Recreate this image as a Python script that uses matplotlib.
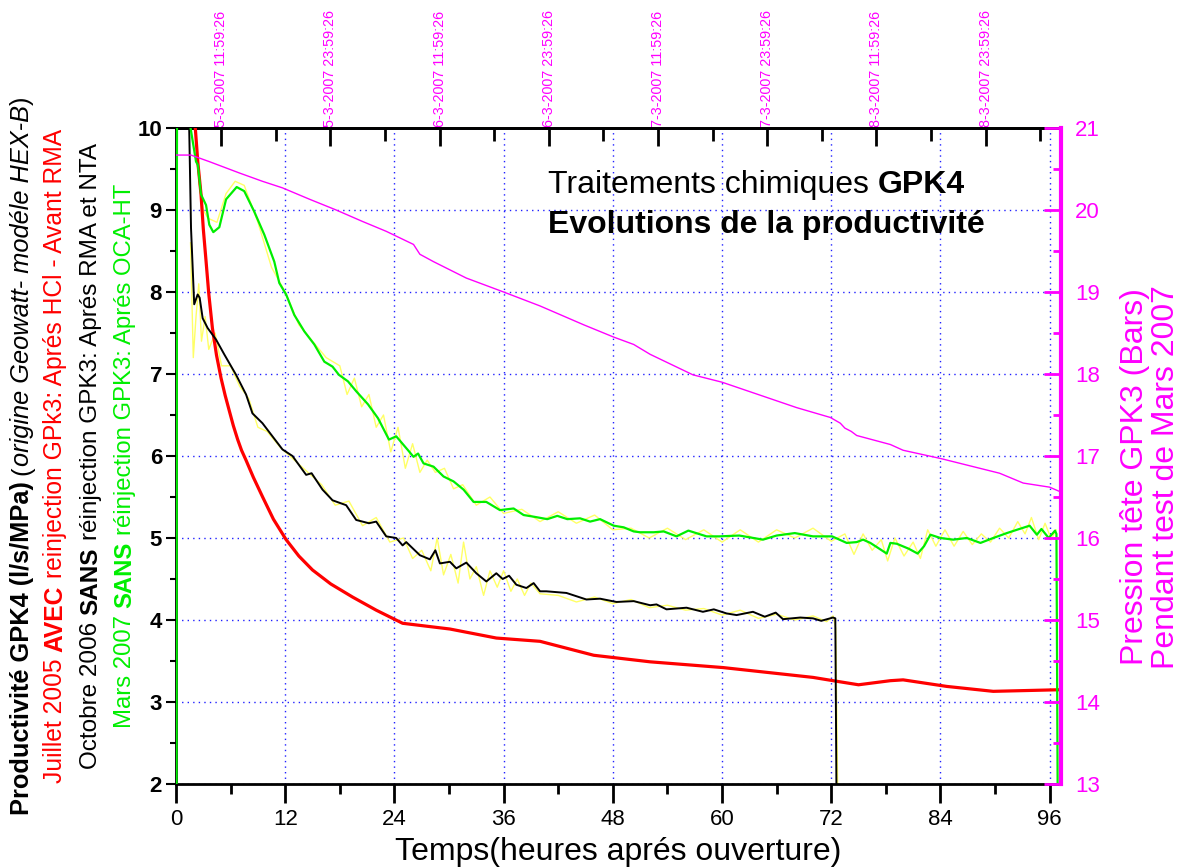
import matplotlib
matplotlib.use("Agg")
import matplotlib.pyplot as plt
import matplotlib.transforms as mtransforms
from matplotlib.ticker import MultipleLocator

plt.rcParams['font.family'] = ['Liberation Sans', 'DejaVu Sans']

# Juillet 2005 (avec reinjection)
red_t = [1.95, 2.12, 2.4, 2.75, 3.0, 3.3, 3.6, 4.0, 4.45, 4.95, 5.4, 5.86, 6.3, 6.78, 7.2, 7.69, 8.5, 9.52,
         10.7, 12.1, 13.5, 15.0, 17.0, 19.4, 22.0, 24.9, 30.1, 35.2, 40.0, 45.9, 52.1, 60.1, 70.0, 72.2,
         75.0, 78.5, 79.9, 84.7, 89.8, 97.25]
red_v = [10.6, 10.0, 9.58, 9.19, 8.77, 8.38, 7.98, 7.56, 7.23, 6.95, 6.74, 6.55, 6.37, 6.20, 6.07, 5.95, 5.74, 5.50,
         5.23, 4.98, 4.78, 4.61, 4.44, 4.28, 4.12, 3.96, 3.89, 3.78, 3.74, 3.57, 3.49, 3.42, 3.30, 3.26,
         3.21, 3.26, 3.27, 3.19, 3.13, 3.15]

# Octobre 2006 (sans reinjection)
blk_t = [1.3, 1.45, 1.65, 2.0, 2.38, 2.6, 2.93, 3.48, 4.4, 5.3, 6.6, 7.7, 8.4, 9.5, 10.6, 11.7, 12.8,
         14.3, 14.9, 16.1, 17.2, 18.7, 19.8, 21.2, 22.0, 23.1, 24.2, 24.9, 25.3, 26.8, 27.9, 28.5, 29.0,
         30.1, 30.8, 31.9, 33.0, 34.1, 35.2, 35.9, 36.6, 37.4, 38.5, 39.3, 40.0, 40.7, 42.9, 45.1, 46.6,
         48.4, 50.3, 52.1, 52.8, 53.9, 56.1, 57.9, 59.1, 60.5, 61.6, 63.4, 64.7, 65.9, 66.7, 68.6, 70.0,
         70.9, 72.2, 72.45, 72.6]
blk_v = [10.5, 10.0, 8.78, 7.85, 7.97, 7.93, 7.68, 7.56, 7.42, 7.24, 6.99, 6.75, 6.52, 6.40, 6.24, 6.08, 6.0,
         5.77, 5.79, 5.59, 5.46, 5.40, 5.22, 5.18, 5.20, 5.02, 5.0, 4.91, 4.95, 4.79, 4.74, 4.85, 4.69,
         4.71, 4.63, 4.70, 4.57, 4.47, 4.57, 4.50, 4.54, 4.43, 4.39, 4.45, 4.35, 4.35, 4.33, 4.25, 4.26,
         4.22, 4.23, 4.18, 4.19, 4.13, 4.15, 4.10, 4.13, 4.08, 4.06, 4.10, 4.04, 4.09, 4.01, 4.03, 4.02,
         3.99, 4.03, 4.02, 1.5]

# Mars 2007 (sans reinjection)
grn_t = [0.06, 0.1, 0.12, 1.4, 1.6, 2.2, 2.4, 2.75, 3.3, 3.66, 4.1, 4.76, 5.5, 6.67, 7.5, 8.6, 9.7, 10.8, 11.35,
         12.1, 13.0, 14.1, 15.2, 16.3, 17.2, 17.9, 18.9, 19.8, 21.1, 22.2, 23.4, 24.2, 25.5, 26.1, 26.6,
         27.2, 28.3, 29.4, 30.5, 31.6, 32.7, 34.1, 35.6, 37.1, 38.2, 39.3, 40.8, 41.9, 43.0, 44.4, 45.5,
         46.6, 48.1, 49.2, 50.3, 51.0, 52.5, 53.6, 55.0, 56.3, 58.3, 59.7, 61.9, 64.5, 66.0, 68.0, 70.0,
         72.1, 73.7, 74.8, 75.5, 76.3, 77.0, 78.1, 78.5, 79.2, 80.5, 81.5, 82.2, 82.9, 84.0, 85.4, 86.9,
         88.4, 89.8, 91.3, 92.4, 93.8, 94.6, 95.1, 95.9, 96.6, 96.75, 96.9]
grn_v = [1.5, 9.5, 10.6, 10.6, 10.0, 9.59, 9.55, 9.19, 9.06, 8.82, 8.73, 8.79, 9.13, 9.28, 9.23, 8.98, 8.70, 8.37, 8.11,
         7.97, 7.72, 7.52, 7.36, 7.15, 7.09, 6.99, 6.91, 6.79, 6.63, 6.46, 6.20, 6.24, 6.07, 5.99, 6.03,
         5.91, 5.87, 5.75, 5.69, 5.59, 5.44, 5.44, 5.34, 5.36, 5.28, 5.26, 5.23, 5.27, 5.23, 5.24, 5.20,
         5.23, 5.15, 5.13, 5.08, 5.07, 5.07, 5.08, 5.02, 5.09, 5.02, 5.02, 5.03, 4.98, 5.03, 5.06, 5.02,
         5.02, 4.94, 4.95, 4.98, 4.94, 4.89, 4.81, 4.94, 4.93, 4.87, 4.81, 4.90, 5.04, 5.00, 4.98, 5.00,
         4.94, 5.00, 5.06, 5.10, 5.15, 5.04, 5.11, 5.00, 5.09, 5.05, 1.5]

# donnees brutes (jaune)
ylw_b_t = [1.6, 1.9, 2.2, 2.5, 2.8, 3.2, 3.6, 4.3, 5.0, 6.0, 7.0, 8.0, 9.0, 10.0, 11.5, 13.0, 14.5, 16.0,
           17.5, 19.0, 20.5, 22.0, 23.5, 25.0, 26.0, 27.0, 28.0, 28.7, 29.4, 30.2, 31.0, 31.6, 32.3, 33.0,
           33.8, 34.5, 35.3, 36.0, 36.8, 37.5, 38.3, 39.0, 40.0, 42.0, 44.0, 46.0, 48.0, 50.0, 52.0, 54.0,
           56.0, 58.0, 60.0, 62.0, 64.0, 66.0, 68.0, 70.0, 71.5, 72.2, 72.5, 72.7]
ylw_b_v = [8.6, 7.2, 7.7, 8.1, 7.4, 7.7, 7.3, 7.5, 7.1, 7.1, 6.85, 6.7, 6.35, 6.3, 6.1, 5.95, 5.8, 5.65,
           5.4, 5.45, 5.15, 5.25, 4.95, 5.0, 4.75, 4.85, 4.6, 5.0, 4.55, 4.8, 4.45, 4.95, 4.5, 4.65,
           4.3, 4.6, 4.4, 4.6, 4.35, 4.5, 4.3, 4.45, 4.32, 4.3, 4.22, 4.28, 4.2, 4.25, 4.15, 4.18,
           4.12, 4.14, 4.06, 4.12, 4.02, 4.07, 4.0, 4.05, 3.98, 4.05, 3.9, 2.0]
ylw_g_t = [2.5, 3.0, 3.5, 4.5, 5.5, 6.5, 7.5, 9.0, 10.5, 12.0, 13.5, 15.0, 16.5, 18.0, 18.8, 19.6, 20.4, 21.2,
           22.0, 22.8, 23.6, 24.4, 25.2, 26.0, 26.8, 27.6, 28.5, 29.5, 30.5, 31.5, 33.0, 34.5, 36.0, 38.0,
           40.0, 42.0, 44.0, 46.0, 48.0, 50.0, 52.0, 54.0, 56.0, 58.0, 60.0, 62.0, 64.0, 66.0, 68.0, 70.0,
           72.0, 73.5, 74.5, 75.5, 76.5, 77.5, 78.2, 79.0, 80.0, 81.0, 81.8, 82.6, 83.5, 84.5, 85.5, 86.5,
           87.5, 88.5, 89.5, 90.5, 91.5, 92.5, 93.3, 94.0, 94.8, 95.5, 96.2, 96.7]
ylw_g_v = [9.35, 9.0, 8.9, 8.85, 9.2, 9.35, 9.3, 8.85, 8.3, 8.0, 7.6, 7.4, 7.2, 7.1, 6.75, 6.95, 6.6, 6.75,
           6.35, 6.5, 6.05, 6.35, 5.85, 6.15, 5.8, 5.95, 5.8, 5.85, 5.6, 5.65, 5.4, 5.5, 5.3, 5.35,
           5.2, 5.32, 5.18, 5.28, 5.1, 5.12, 5.0, 5.12, 4.98, 5.1, 4.95, 5.1, 4.95, 5.1, 5.0, 5.12,
           4.96, 5.05, 4.8, 5.05, 4.85, 4.98, 4.72, 5.0, 4.78, 4.95, 4.75, 5.1, 4.9, 5.1, 4.9, 5.08,
           4.92, 5.05, 4.95, 5.12, 5.0, 5.2, 5.05, 5.25, 4.98, 5.18, 4.98, 5.1]

# Pression tete GPK3 (axe de droite)
mag_t = [0, 1.65, 3.66, 7.0, 9.5, 11.7, 14.7, 17.6, 20.5, 23.1, 24.6, 26.1, 26.8, 28.3, 31.9, 36.0, 40.0,
         44.8, 48.1, 50.3, 52.1, 56.8, 60.0, 64.5, 68.2, 71.9, 73.0, 73.5, 74.2, 74.8, 78.5, 79.9, 84.0,
         90.5, 93.1, 96.0, 97.25]
mag_v = [20.67, 20.67, 20.59, 20.45, 20.35, 20.27, 20.13, 20.0, 19.86, 19.74, 19.66, 19.58, 19.46, 19.37,
         19.17, 19.0, 18.83, 18.60, 18.45, 18.36, 18.24, 17.99, 17.90, 17.73, 17.59, 17.47, 17.40, 17.34,
         17.30, 17.25, 17.14, 17.07, 16.97, 16.79, 16.67, 16.62, 16.56]

# axe du haut : dates
top_pos = [4.97 + 12 * k for k in range(8)]
top_labels = ['5-3-2007 11:59:26', '5-3-2007 23:59:26', '6-3-2007 11:59:26', '6-3-2007 23:59:26',
              '7-3-2007 11:59:26', '7-3-2007 23:59:26', '8-3-2007 11:59:26', '8-3-2007 23:59:26']

GREEN = '#00ee00'
MAG = '#ff00ff'
W, H = 1181, 868

fig = plt.figure(figsize=(W / 100, H / 100), dpi=100)
ax = fig.add_axes([176 / W, 1 - 784 / H, (1061 - 176) / W, (784 - 128) / H])

ax.plot(ylw_b_t, ylw_b_v, color='#ffff66', lw=1, zorder=2)
ax.plot(ylw_g_t, ylw_g_v, color='#ffff66', lw=1, zorder=2)
ax.plot(red_t, red_v, color='#ff0000', lw=2.3, zorder=3)
ax.plot(blk_t, blk_v, color='black', lw=1.4, zorder=4)
ax.plot(grn_t, grn_v, color=GREEN, lw=1.6, zorder=4)

ax.set_xlim(0, 97.25)
ax.set_ylim(2, 10)
ax.set_xticks(range(0, 97, 12))
ax.xaxis.set_minor_locator(MultipleLocator(6))
ax.set_yticks(range(2, 11))
ax.yaxis.set_minor_locator(MultipleLocator(0.5))
ax.grid(True, which='major', color='#2020ff', linestyle=(0, (1, 3)), lw=1)
ax.tick_params(axis='x', which='major', direction='out', length=14, width=2, labelsize=16, pad=4)
ax.tick_params(axis='x', which='minor', direction='out', length=7, width=2)
ax.tick_params(axis='y', which='major', direction='out', length=7, width=1.5, labelsize=16, pad=3)
ax.tick_params(axis='y', which='minor', direction='out', length=4, width=1.5)
for lbl in ax.get_yticklabels():
    lbl.set_fontweight('bold')
for s in ['left', 'bottom', 'top']:
    ax.spines[s].set_linewidth(2)
ax.spines['right'].set_visible(False)

# axe de droite
ax2 = ax.twinx()
ax2.plot(mag_t, mag_v, color=MAG, lw=1, zorder=3)
ax2.set_ylim(13, 21)
ax2.set_yticks(range(13, 22))
ax2.yaxis.set_minor_locator(MultipleLocator(0.5))
ax2.tick_params(axis='y', which='major', direction='in', length=12, width=2, color=MAG,
                labelcolor=MAG, labelsize=16, pad=10)
ax2.tick_params(axis='y', which='minor', direction='in', length=6, width=2, color=MAG)
for s in ['left', 'bottom', 'top']:
    ax2.spines[s].set_visible(False)
ax2.spines['right'].set_color(MAG)
ax2.spines['right'].set_linewidth(3)

# axe du haut
sec = ax.secondary_xaxis('top')
sec.set_xticks(top_pos, labels=top_labels)
sec.set_xticks([p + 6 for p in top_pos], minor=True)
sec.tick_params(axis='x', which='major', direction='in', length=13, width=2, labelcolor=MAG,
                labelsize=10.4, labelrotation=90, pad=1)
sec.tick_params(axis='x', which='minor', direction='in', length=9, width=2)
sec.spines['top'].set_linewidth(2)

renderer = fig.canvas.get_renderer()
ident = mtransforms.IdentityTransform()


def chain(x, y, pieces, size, vertical=False, center=False):
    # pieces: (texte, couleur, graisse, style, espace avant)
    arts = []
    for s, col, wt, st, sp in pieces:
        arts.append(fig.text(0, 0, s, color=col, fontweight=wt, fontstyle=st, fontsize=size,
                             rotation=90 if vertical else 0, rotation_mode='anchor',
                             ha='left', va='baseline', transform=ident))
    gap = 0.278 * size * 100 / 72
    lens = []
    for a in arts:
        bb = a.get_window_extent(renderer)
        lens.append(bb.height if vertical else bb.width)
    total = sum(lens) + gap * sum(1 for p in pieces[1:] if p[4])
    pos = (y if vertical else x) - (total / 2 if center else 0)
    for a, L, p in zip(arts, lens, pieces):
        if p[4]:
            pos += gap
        a.set_position((x, pos) if vertical else (pos, y))
        pos += L


yc = H - 456
chain(29, yc, [('Productivité GPK4 (l/s/MPa)', 'black', 'bold', 'normal', False),
               ('(', 'black', 'normal', 'normal', True),
               ('origine Geowatt- modéle HEX-B', 'black', 'normal', 'italic', False),
               (')', 'black', 'normal', 'normal', False)], 18.3, vertical=True, center=True)
chain(62, yc, [('Juillet 2005', 'red', 'normal', 'normal', False),
               ('AVEC', 'red', 'bold', 'normal', True),
               ('reinjection GPk3: Aprés HCl - Avant RMA', 'red', 'normal', 'normal', True)],
      17.7, vertical=True, center=True)
chain(97, yc, [('Octobre 2006', 'black', 'normal', 'normal', False),
               ('SANS', 'black', 'bold', 'normal', True),
               ('réinjection GPK3: Aprés RMA et NTA', 'black', 'normal', 'normal', True)],
      17.5, vertical=True, center=True)
chain(131, yc, [('Mars 2007', GREEN, 'normal', 'normal', False),
                ('SANS', GREEN, 'bold', 'normal', True),
                ('réinjection GPK3: Aprés OCA-HT', GREEN, 'normal', 'normal', True)],
      17.2, vertical=True, center=True)

# titre dans le graphique
chain(548, H - 193, [('Traitements chimiques', 'black', 'normal', 'normal', False),
                     ('GPK4', 'black', 'bold', 'normal', True)], 23)
fig.text(548, H - 233, 'Evolutions de la productivité', fontsize=23, fontweight='bold',
         ha='left', va='baseline', transform=ident)

fig.text(618, H - 852, 'Temps(heures aprés ouverture)', fontsize=23, ha='center', va='center',
         transform=ident)
fig.text(1135, H - 477, 'Pression tête GPK3 (Bars)', fontsize=23, color=MAG, rotation=90,
         ha='center', va='center', transform=ident)
fig.text(1166, H - 477, 'Pendant test de Mars 2007', fontsize=23, color=MAG, rotation=90,
         ha='center', va='center', transform=ident)

fig.savefig('out.png', dpi=100)
